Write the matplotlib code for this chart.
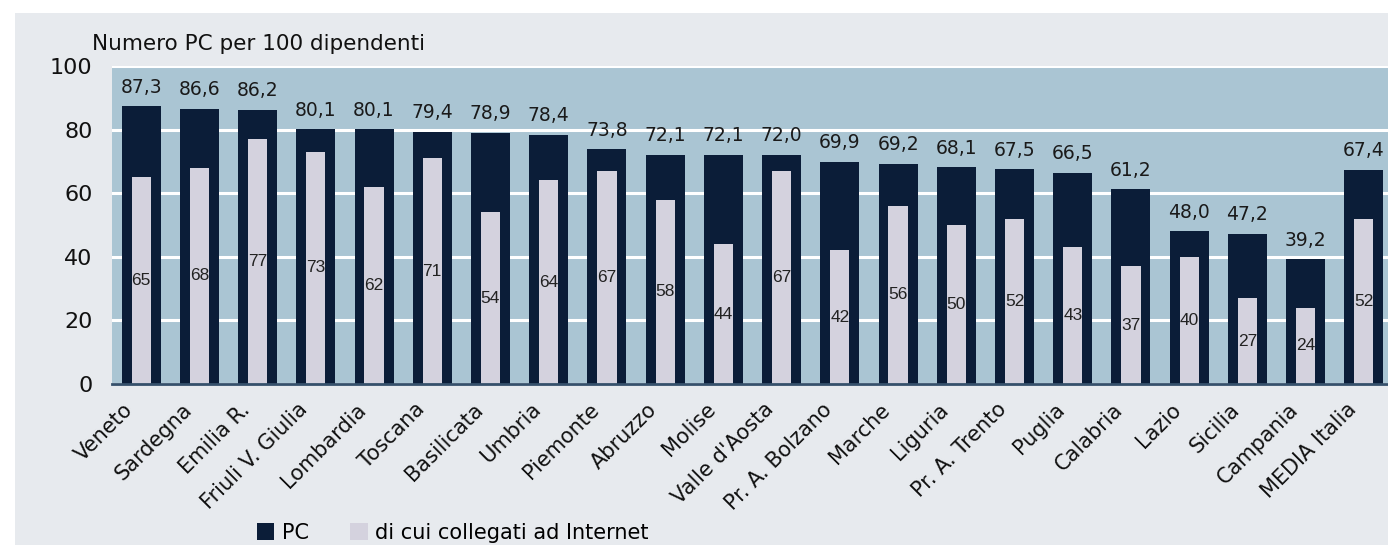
import matplotlib.pyplot as plt
from matplotlib.patches import Rectangle
from matplotlib.transforms import ScaledTranslation

regioni = ["Veneto", "Sardegna", "Emilia R.", "Friuli V. Giulia", "Lombardia",
           "Toscana", "Basilicata", "Umbria", "Piemonte", "Abruzzo", "Molise",
           "Valle d'Aosta", "Pr. A. Bolzano", "Marche", "Liguria", "Pr. A. Trento",
           "Puglia", "Calabria", "Lazio", "Sicilia", "Campania", "MEDIA Italia"]
pc = [87.3, 86.6, 86.2, 80.1, 80.1, 79.4, 78.9, 78.4, 73.8, 72.1, 72.1,
      72.0, 69.9, 69.2, 68.1, 67.5, 66.5, 61.2, 48.0, 47.2, 39.2, 67.4]
internet = [65, 68, 77, 73, 62, 71, 54, 64, 67, 58, 44,
            67, 42, 56, 50, 52, 43, 37, 40, 27, 24, 52]

DARK = '#0b1d38'
LIGHT = '#d4d2de'
PANEL = '#aac5d3'
BACK = '#e7eaee'

fig = plt.figure(figsize=(13.88, 5.45), dpi=100, facecolor='white')
fig.patches.append(Rectangle((15 / 1388, 0), 1, 1 - 13 / 545, transform=fig.transFigure,
                             facecolor=BACK, edgecolor='none', zorder=-10))

ax = fig.add_axes([112 / 1388, 1 - 384 / 545, (1393 - 112) / 1388, (384 - 66) / 545])
ax.set_facecolor(PANEL)

x = range(len(regioni))
bars_pc = ax.bar(x, pc, width=0.67, color=DARK, zorder=3, label='PC')
bars_int = ax.bar(x, internet, width=0.33, color=LIGHT, zorder=4,
                  label='di cui collegati ad Internet')

for i, v in enumerate(pc):
    ax.annotate(f"{v:.1f}".replace('.', ','), (i, v), xytext=(0, 7),
                textcoords='offset points', ha='center', va='bottom',
                fontsize=13.5, color='#1a1a1a')
for i, v in enumerate(internet):
    ax.text(i, v / 2, str(v), ha='center', va='center', fontsize=12.5,
            family='Liberation Sans', color='#222222', zorder=5)

ax.set_xlim(-0.5, len(regioni) - 0.5)
ax.set_ylim(0, 100)
ax.set_yticks([0, 20, 40, 60, 80, 100])
ax.yaxis.grid(True, color='white', linewidth=2.2, zorder=1)
ax.set_axisbelow(True)
ax.tick_params(axis='y', length=0, pad=14, labelsize=16, labelcolor='#111111')
ax.tick_params(axis='x', length=0, pad=11)
ax.set_xticks(list(x))
ax.set_xticklabels(regioni, rotation=45, ha='right', rotation_mode='anchor',
                   fontsize=15, color='#111111')
# nudge the slanted region names a little to the left
shift = ScaledTranslation(-18 / 100, 0, fig.dpi_scale_trans)
for lab in ax.get_xticklabels():
    lab.set_transform(lab.get_transform() + shift)

for side in ['top', 'right', 'left']:
    ax.spines[side].set_visible(False)
ax.spines['bottom'].set_color('#35506b')
ax.spines['bottom'].set_linewidth(2)
ax.spines['bottom'].set_zorder(6)

fig.text(92 / 1388, 1 - 50 / 545, "Numero PC per 100 dipendenti", fontsize=15.5,
         color='#111111', ha='left', va='baseline')

fig.legend(handles=[bars_pc, bars_int], loc='lower left',
           bbox_to_anchor=(238 / 1388, -0.03), ncol=2, frameon=False,
           fontsize=15, handlelength=0.85, handleheight=0.85,
           handletextpad=0.35, columnspacing=2.0)

fig.savefig('out.png', dpi=100, facecolor=fig.get_facecolor())
